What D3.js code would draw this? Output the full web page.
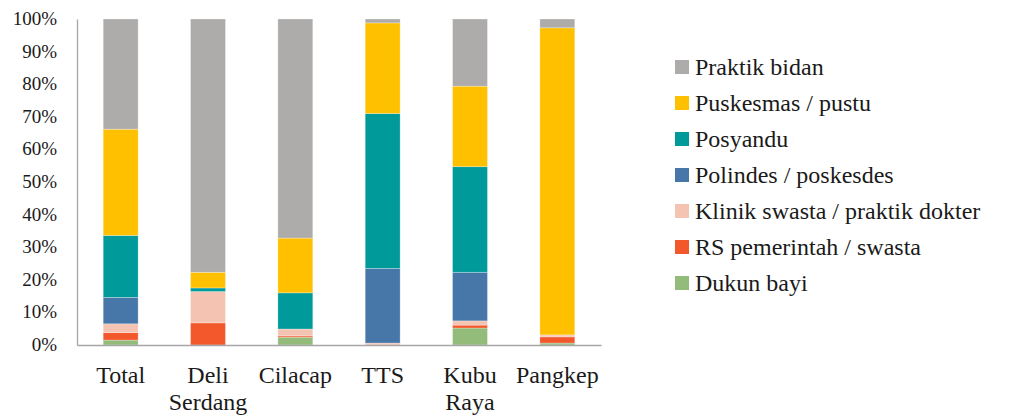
<!DOCTYPE html>
<html>
<head>
<meta charset="utf-8">
<script src="https://cdn.jsdelivr.net/npm/d3@7"></script>
</head>
<body style="margin:0">
<svg id="chart" width="1011" height="420"></svg>
<script>
// Regions (x axis); multi-line names are split on "\n"
const regions = ["Total", "Deli\nSerdang", "Cilacap", "TTS", "Kubu\nRaya", "Pangkep"];

// Share of births per place (percent), one array per place, stacked bottom → top
const dukunBayi        = [1.5, 0.0, 2.4, 0.0, 5.2, 0.6];
const rsPemerintah     = [2.3, 6.8, 0.4, 0.0, 0.9, 1.9];
const klinikSwasta     = [2.7, 9.6, 2.1, 0.6, 1.3, 0.6];
const polindes         = [8.1, 0.0, 0.0, 22.9, 14.9, 0.0];
const posyandu         = [19.0, 1.1, 11.1, 47.5, 32.4, 0.0];
const puskesmas        = [32.6, 4.8, 16.8, 27.8, 24.7, 94.2];
const praktikBidan     = [33.8, 77.7, 67.2, 1.2, 20.6, 2.7];

const seriesNames = ["Dukun bayi", "RS pemerintah / swasta", "Klinik swasta / praktik dokter",
  "Polindes / poskesdes", "Posyandu", "Puskesmas / pustu", "Praktik bidan"];
const seriesValues = [dukunBayi, rsPemerintah, klinikSwasta, polindes, posyandu, puskesmas, praktikBidan];
const seriesColors = ["#93bb7a", "#f2582b", "#f5c3b2", "#4677a8", "#009a9a", "#ffc000", "#aeabab"];

const yTicks = [0, 10, 20, 30, 40, 50, 60, 70, 80, 90, 100];

const FACE = '"Liberation Serif"';
const INK = "#1a1a1a";

// serif face set inline on each label
const face = (sel, size) => sel
  .style("font-family", FACE)
  .attr("font-size", size)
  .attr("fill", INK);

const svg = d3.select("#chart");
const plot = { left: 77, right: 601, top: 19, bottom: 345 };

const x = d3.scaleBand().domain(regions).range([plot.left, plot.right]).paddingInner(0.6).paddingOuter(0.3);
const y = d3.scaleLinear().domain([0, 100]).range([plot.bottom, plot.top]);

// Build the stack from the named series
const rows = regions.map((r, i) => {
  const row = { region: r };
  seriesNames.forEach((s, k) => { row[s] = seriesValues[k][i]; });
  return row;
});
const stacked = d3.stack().keys(seriesNames)(rows);

svg.append("g").selectAll("g")
  .data(stacked)
  .join("g")
  .attr("fill", (d, k) => seriesColors[k])
  .selectAll("rect")
  .data(d => d)
  .join("rect")
  .attr("x", d => x(d.data.region))
  .attr("width", x.bandwidth())
  .attr("y", d => y(d[1]))
  .attr("height", d => Math.max(0, y(d[0]) - y(d[1])))
  .attr("stroke", "rgba(255,255,255,0.35)")
  .attr("stroke-width", 0.8);

// Axis lines; the axis groups' default sans-serif font attributes are dropped
const gy = svg.append("g").attr("transform", `translate(${plot.left},0)`)
  .call(d3.axisLeft(y).tickValues(yTicks).tickSize(0).tickFormat(""));
const gx = svg.append("g").attr("transform", `translate(0,${plot.bottom})`)
  .call(d3.axisBottom(x).tickSize(0).tickFormat(""));
[gy, gx].forEach(g => {
  g.attr("font-family", null).attr("font-size", null).attr("text-anchor", null);
  g.selectAll(".tick").remove();
  g.select(".domain").attr("stroke", "#a6a6a6").attr("stroke-width", 1.3);
});

// Y tick labels
yTicks.forEach(v => {
  face(svg.append("text"), 19)
    .attr("x", plot.left - 20).attr("y", y(v) + 6)
    .attr("text-anchor", "end").text(v + "%");
});

// Region labels, wrapped on "\n"
regions.forEach(r => {
  const cx = x(r) + x.bandwidth() / 2;
  r.split("\n").forEach((ln, i) => {
    face(svg.append("text"), 24)
      .attr("x", cx).attr("y", 383 + i * 27)
      .attr("text-anchor", "middle").text(ln);
  });
});

// Legend, top entry = top of the stack
const legendOrder = seriesNames.map((s, k) => k).reverse();
legendOrder.forEach((k, i) => {
  const cy = 67 + i * 36;
  svg.append("rect").attr("x", 675).attr("y", cy - 7).attr("width", 14).attr("height", 14).attr("fill", seriesColors[k]);
  face(svg.append("text"), 24).attr("x", 695).attr("y", cy + 7.5).text(seriesNames[k]);
});
</script>
</body>
</html>
